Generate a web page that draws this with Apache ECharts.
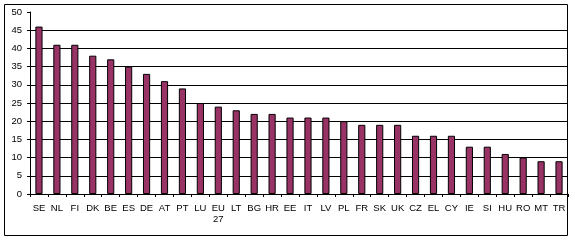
<!DOCTYPE html>
<html>
<head>
<meta charset="utf-8">
<script src="https://cdn.jsdelivr.net/npm/echarts@6/dist/echarts.min.js"></script>
<style>html,body{margin:0;padding:0;background:#fff;}#c{width:575px;height:241px;}</style>
</head>
<body>
<div id="c"></div>
<script>
const categories = ['SE','NL','FI','DK','BE','ES','DE','AT','PT','LU','EU\n27','LT','BG','HR','EE','IT','LV','PL','FR','SK','UK','CZ','EL','CY','IE','SI','HU','RO','MT','TR'];
const values = [46,41,41,38,37,35,33,31,29,25,24,23,22,22,21,21,21,20,19,19,19,16,16,16,13,13,11,10,9,9];
const yTicks = [0,5,10,15,20,25,30,35,40,45,50];

const chart = echarts.init(document.getElementById('c'), null, {renderer:'canvas'});
const font = 'Liberation Sans, Arial, sans-serif';
chart.setOption({
  animation:false,
  backgroundColor:'#fff',
  grid:{left:30, right:7, top:12, bottom:47, containLabel:false},
  xAxis:{
    type:'category', data:categories,
    axisLine:{lineStyle:{color:'#000', width:1}},
    axisTick:{show:true, alignWithLabel:false, length:3, lineStyle:{color:'#000'}},
    axisLabel:{color:'#000', fontFamily:font, fontSize:9.5, interval:0, margin:9, lineHeight:11}
  },
  yAxis:{
    type:'value', min:yTicks[0], max:yTicks[yTicks.length-1], interval:5,
    axisLine:{show:true, lineStyle:{color:'#000', width:1}},
    axisTick:{show:true, length:3, lineStyle:{color:'#000'}},
    axisLabel:{color:'#000', fontFamily:font, fontSize:9.5, margin:8},
    splitLine:{show:true, showMaxLine:false, lineStyle:{color:'#000', width:1}}
  },
  series:[{
    type:'bar', data:values, barWidth:'40%',
    itemStyle:{color:'#993366', borderColor:'#000', borderWidth:1}
  }],
  graphic:[{
    type:'rect', shape:{x:4.5, y:4.5, width:563, height:231},
    style:{fill:'none', stroke:'#000', lineWidth:1}, z:100
  }]
});
</script>
</body>
</html>
